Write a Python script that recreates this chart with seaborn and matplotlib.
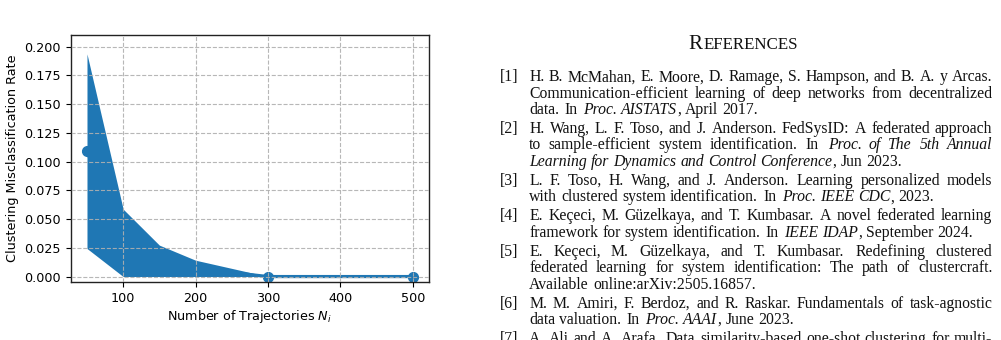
import matplotlib
matplotlib.use("Agg")
import matplotlib.pyplot as plt
import seaborn as sns
import numpy as np

# ---------------- data ----------------
n_traj = [50, 100, 150, 200, 300, 500]
mean_rate = [0.109, 0.029, 0.0135, 0.007, 0.0, 0.0]
lower_rate = [0.0244, 0.0, 0.0, 0.0, 0.0, 0.0]
upper_rate = [0.1936, 0.0586, 0.0273, 0.0142, 0.0, 0.0]

x_label = "Number of Trajectories $N_i$"
y_label = "Clustering Misclassification Rate"

ref_heading = "REFERENCES"
# each entry: list of lines; each line: (segments, justified); segment: (text, italic)
references = [
    ("[1]", [
        ([("H. B. McMahan, E. Moore, D. Ramage, S. Hampson, and B. A. y Arcas.", False)], True),
        ([("Communication-efficient learning of deep networks from decentralized", False)], True),
        ([("data.  In ", False), ("Proc. AISTATS", True), (", April 2017.", False)], False),
    ]),
    ("[2]", [
        ([("H. Wang, L. F. Toso, and J. Anderson. FedSysID: A federated approach", False)], True),
        ([("to sample-efficient system identification.  In ", False), ("Proc. of The 5th Annual", True)], True),
        ([("Learning for Dynamics and Control Conference", True), (", Jun 2023.", False)], False),
    ]),
    ("[3]", [
        ([("L. F. Toso, H. Wang, and J. Anderson.  Learning personalized models", False)], True),
        ([("with clustered system identification.  In ", False), ("Proc. IEEE CDC", True), (", 2023.", False)], False),
    ]),
    ("[4]", [
        ([("E. Keçeci, M. Güzelkaya, and T. Kumbasar. A novel federated learning", False)], True),
        ([("framework for system identification.  In ", False), ("IEEE IDAP", True), (", September 2024.", False)], False),
    ]),
    ("[5]", [
        ([("E. Keçeci, M. Güzelkaya, and T. Kumbasar.  Redefining clustered", False)], True),
        ([("federated learning for system identification: The path of clustercraft.", False)], True),
        ([("Available online:arXiv:2505.16857.", False)], False),
    ]),
    ("[6]", [
        ([("M. M. Amiri, F. Berdoz, and R. Raskar. Fundamentals of task-agnostic", False)], True),
        ([("data valuation.  In ", False), ("Proc. AAAI", True), (", June 2023.", False)], False),
    ]),
    ("[7]", [
        ([("A. Ali and A. Arafa.  Data similarity-based one-shot clustering for multi-", False)], True),
    ]),
]

# ---------------- figure ----------------
W, H = 1001, 340
fig = plt.figure(figsize=(W / 100, H / 100), dpi=100)
fig.patch.set_facecolor("white")

def fx(px):
    return px / W

def fy(py):
    return 1 - py / H

ax = fig.add_axes([fx(70.7), fy(282.3), fx(429) - fx(70.7), fy(35) - fy(282.3)])
blue = "#1f77b4"
sns.lineplot(x=n_traj, y=mean_rate, marker="o", markersize=7.2, linewidth=2.3,
             color=blue, markeredgecolor=blue, markeredgewidth=0.8,
             errorbar=None, ax=ax, zorder=2)
ax.fill_between(n_traj, lower_rate, upper_rate, color=blue, alpha=1.0,
                linewidth=0, zorder=2.2)
ax.set_ylim(-0.005, 0.21)
ax.set_xlim(27.5, 522.5)
ax.set_yticks(np.arange(0, 0.2001, 0.025))
ax.set_xticks([100, 200, 300, 400, 500])
ax.yaxis.set_major_formatter(matplotlib.ticker.FormatStrFormatter("%.3f"))
ax.set_axisbelow(False)
ax.grid(True, linestyle="--", color="#b0b0b0", linewidth=0.8, alpha=0.9)
ax.tick_params(labelsize=9.2, direction="out", length=3.5, width=0.8)
ax.set_xlabel(x_label, fontsize=9.2, labelpad=2)
ax.set_ylabel(y_label, fontsize=9.2)
for s in ax.spines.values():
    s.set_linewidth(1.0)
    s.set_color("#222222")

# ---------------- references text ----------------
renderer = fig.canvas.get_renderer()
serif = "Liberation Serif"

def measure(txt, size, italic=False):
    t = fig.text(0, 0, txt, fontsize=size, family=serif,
                 style="italic" if italic else "normal")
    w = t.get_window_extent(renderer=renderer).width
    t.remove()
    return w

# fit font size to an unjustified line measured on the reference
fs = 10 * 227.4 / measure("Available online:arXiv:2505.16857.", 10)
space_w = measure("a a", fs) - measure("aa", fs)

def put(px, py, txt, size, italic=False, ha="left"):
    fig.text(fx(px), fy(py), txt, fontsize=size, family=serif,
             style="italic" if italic else "normal", ha=ha, va="baseline",
             color="#111111")

# heading in small caps, fitted to the reference width
w_R10 = measure("R", 10)
w_rest10 = measure(ref_heading[1:], 8)
hscale = (110 - 1) / (w_R10 + w_rest10)
cap_fs = 10 * hscale
small_fs = 8 * hscale
w_R = measure("R", cap_fs)
w_rest = measure(ref_heading[1:], small_fs)
tot = w_R + 1 + w_rest
hx0 = 743.3 - tot / 2
put(hx0, 48.8, ref_heading[0], cap_fs)
put(hx0 + w_R + 1, 48.8, ref_heading[1:], small_fs)

x_label_left = 500
x_text = 529.3
x_right = 992.3
line_h = 16.3
entry_gap = 2.9
y = 81.3
for label, lines in references:
    put(x_label_left, y, label, fs)
    for segs, justified in lines:
        words = []
        for text, it in segs:
            parts = text.split(" ")
            for i, p in enumerate(parts):
                if p == "":
                    if words:
                        words[-1][2] += 1
                    continue
                words.append([p, it, 0])
                if i < len(parts) - 1:
                    words[-1][2] += 1
        widths = [measure(w[0], fs, w[1]) for w in words]
        nspaces = [min(w[2], 1) for w in words[:-1]]
        extra = sum(space_w * 0.35 for w in words[:-1] if w[2] > 1)
        total_sp = sum(nspaces)
        if justified and total_sp > 0:
            sw = (x_right - x_text - sum(widths) - extra) / total_sp
        else:
            sw = space_w
        xx = x_text
        for i, (wd, w) in enumerate(zip(widths, words)):
            put(xx, y, w[0], fs, w[1])
            xx += wd
            if i < len(words) - 1:
                xx += sw * min(w[2], 1) + (space_w * 0.35 if w[2] > 1 else 0)
        y += line_h
    y += entry_gap

fig.savefig("out.png", dpi=100, facecolor="white")
